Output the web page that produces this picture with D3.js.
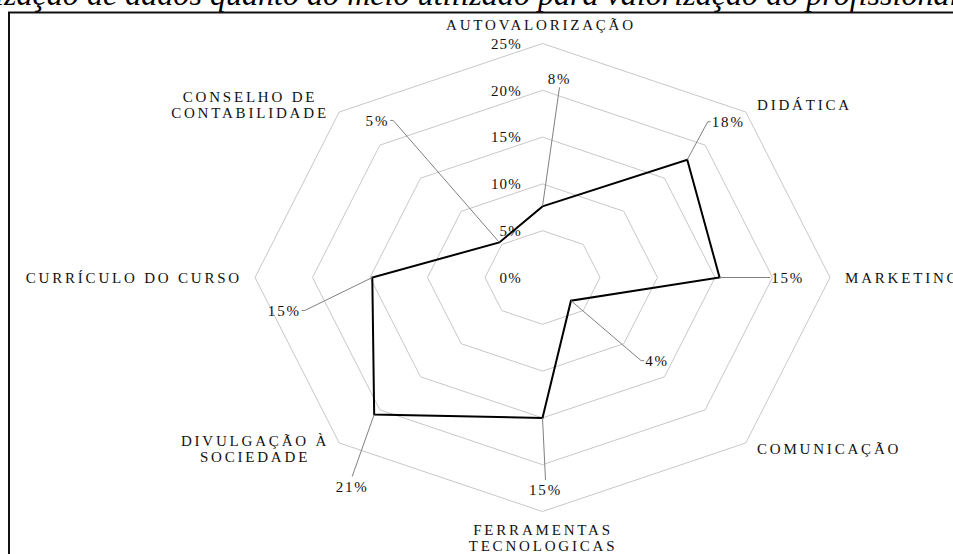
<!DOCTYPE html>
<html>
<head>
<meta charset="utf-8">
<script src="https://cdn.jsdelivr.net/npm/d3@7"></script>
<style>
  html, body { margin: 0; padding: 0; background: #fff; overflow: hidden; }
  svg { display: block; font-family: 'Liberation Serif', 'Times New Roman', serif; }
</style>
</head>
<body>
<div id="radar"></div>
<script>
'use strict'
// categories, clockwise from the top
let categories = [
  ['AUTOVALORIZAÇÃO'],
  ['DIDÁTICA'],
  ['MARKETING'],
  ['COMUNICAÇÃO'],
  ['FERRAMENTAS', 'TECNOLOGICAS'],
  ['DIVULGAÇÃO À', 'SOCIEDADE'],
  ['CURRÍCULO DO CURSO'],
  ['CONSELHO DE', 'CONTABILIDADE']
];
let values = [7.6, 17.8, 15.4, 3.5, 15.0, 20.7, 14.8, 5.3];
let ticks = [0, 5, 10, 15, 20, 25];
let title = 'Utilização de dados quanto ao meio utilizado para valorização do profissional';

// layout only: label centre offset from its point and the side the leader enters
let labelOff = [[17, -128, 'b'], [41, -38, 'l'], [68, 0, 'l'], [86, 60, 'l'],
                [3, 72, 't'], [-22, 72, 't'], [-88, 33, 'r'], [-122, -122, 'r']];
let catPos = [[541, 30, 'middle'], [757, 110, 'start'], [845, 283, 'start'], [757, 454, 'start'],
              [543, 535, 'middle'], [255, 446, 'middle'], [242, 283, 'end'], [250, 102, 'middle']];

let W = 953, H = 554;
let cx = 542.5, cy = 277.5;
let rx = d3.scaleLinear().domain([0, 25]).range([0, 287.5]);
let ry = d3.scaleLinear().domain([0, 25]).range([0, 234]);
let angle = d3.scaleLinear().domain([0, categories.length]).range([0, 2 * Math.PI]);

function pt(i, v) {
  let a = angle(i);
  return [cx + rx(v) * Math.sin(a), cy - ry(v) * Math.cos(a)];
}

let svg = d3.select('#radar').append('svg')
  .attr('width', W).attr('height', H);

// title, clipped at the top and sides like the source
let t = svg.append('text')
  .attr('y', 5)
  .attr('font-style', 'italic')
  .attr('font-size', 30)
  .attr('fill', '#000')
  .text(title);
let vis = t.node().getSubStringLength(5, title.length - 6);
let fs = 30 * 946 / vis;
t.attr('font-size', fs);
t.attr('x', 4 - t.node().getSubStringLength(0, 5));

// frame (left and top edges visible)
svg.append('path')
  .attr('d', 'M9,' + (H + 5) + 'V12.5H' + (W + 5))
  .attr('fill', 'none')
  .attr('stroke', '#111')
  .attr('stroke-width', 2);

// grid rings
let line = d3.line();
svg.append('g').selectAll('path')
  .data(ticks.filter(d => d > 0))
  .enter().append('path')
  .attr('d', d => line(categories.map((c, i) => pt(i, d))) + 'Z')
  .attr('fill', 'none')
  .attr('stroke', '#c8c8c8')
  .attr('stroke-width', 1);

// tick labels along the top axis
svg.append('g').selectAll('text')
  .data(ticks)
  .enter().append('text')
  .attr('x', 522)
  .attr('y', d => pt(0, d)[1])
  .attr('dy', '0.35em')
  .attr('text-anchor', 'end')
  .attr('font-size', 15)
  .attr('letter-spacing', 1.2)
  .attr('fill', '#111')
  .text(d => d + '%');

// series
svg.append('path')
  .attr('d', line(values.map((v, i) => pt(i, v))) + 'Z')
  .attr('fill', 'none')
  .attr('stroke', '#000')
  .attr('stroke-width', 2)
  .attr('stroke-linejoin', 'miter');

// data labels with leader lines
let fmt = d => Math.round(d) + '%';
let lab = svg.append('g');
values.forEach(function(v, i) {
  let p = pt(i, v);
  let o = labelOff[i];
  let lx = p[0] + o[0], ly = p[1] + o[1];
  let txt = lab.append('text')
    .attr('x', lx).attr('y', ly)
    .attr('dy', '0.35em')
    .attr('text-anchor', 'middle')
    .attr('font-size', 15)
    .attr('letter-spacing', 1.8)
    .attr('fill', '#111')
    .text(fmt(v));
  let bw = txt.node().getComputedTextLength() / 2 + 1;
  let pts = [p];
  if (o[2] == 'b') pts.push([lx, ly + 9]);
  if (o[2] == 't') pts.push([lx, ly - 10]);
  if (o[2] == 'l') { pts.push([lx - bw - 3, ly]); pts.push([lx - bw, ly]); }
  if (o[2] == 'r') { pts.push([lx + bw + 3, ly]); pts.push([lx + bw, ly]); }
  lab.insert('path', 'text')
    .attr('d', line(pts))
    .attr('fill', 'none')
    .attr('stroke', '#808080')
    .attr('stroke-width', 1);
});

// category labels
let cat = svg.append('g').selectAll('text')
  .data(categories)
  .enter().append('text')
  .attr('x', (d, i) => catPos[i][0])
  .attr('y', (d, i) => catPos[i][1])
  .attr('text-anchor', (d, i) => catPos[i][2])
  .attr('font-size', 15)
  .attr('letter-spacing', 2.8)
  .attr('fill', '#111');
cat.selectAll('tspan')
  .data(d => d)
  .enter().append('tspan')
  .attr('x', function() { return d3.select(this.parentNode).attr('x'); })
  .attr('dy', (d, j) => j ? 16 : 0)
  .text(d => d);
</script>
</body>
</html>
